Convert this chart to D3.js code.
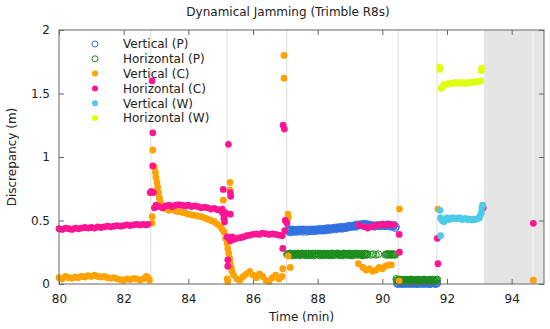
<!DOCTYPE html>
<html><head><meta charset="utf-8">
<script src="https://cdn.jsdelivr.net/npm/d3@7"></script>
<style>body{margin:0;background:#fff}svg{display:block;font-family:"DejaVu Sans",sans-serif}</style>
</head><body><svg id="c" width="550" height="329"></svg>
<script>
const title = "Dynamical Jamming (Trimble R8s)";
const xLabel = "Time (min)";
const yLabel = "Discrepancy (m)";
const xTicks = [80, 82, 84, 86, 88, 90, 92, 94];
const yTicks = [0, 0.5, 1, 1.5, 2];
const eventTimes = [82.84, 85.2, 87.04, 90.49, 91.69, 94.66];
const jamWindow = [93.14, 95];
const seriesNames = ["Vertical (P)", "Horizontal (P)", "Vertical (C)", "Horizontal (C)", "Vertical (W)", "Horizontal (W)"];

const vertP = [
[87.05,0.42],[87.1,0.41],[87.15,0.43],[87.2,0.415],[87.25,0.425],[87.3,0.41],[87.35,0.42],[87.4,0.43],[87.45,0.415],[87.5,0.42],
[87.55,0.43],[87.6,0.42],[87.65,0.41],[87.7,0.425],[87.75,0.43],[87.8,0.42],[87.85,0.415],[87.9,0.43],[87.95,0.425],[88.0,0.42],
[88.05,0.435],[88.1,0.425],[88.15,0.42],[88.2,0.435],[88.25,0.43],[88.3,0.425],[88.35,0.44],[88.4,0.43],[88.45,0.435],[88.5,0.44],
[88.55,0.43],[88.6,0.445],[88.65,0.44],[88.7,0.435],[88.75,0.45],[88.8,0.44],[88.85,0.445],[88.9,0.455],[88.95,0.445],[89.0,0.45],
[89.05,0.46],[89.1,0.45],[89.15,0.465],[89.2,0.455],[89.25,0.46],[89.3,0.47],[89.35,0.46],[89.4,0.475],[89.45,0.465],[89.5,0.47],
[89.55,0.46],[89.6,0.465],[89.65,0.455],[89.7,0.46],[89.75,0.45],[89.8,0.46],[89.85,0.455],[89.9,0.46],[89.95,0.465],[90.0,0.46],
[90.05,0.455],[90.1,0.46],[90.15,0.47],[90.2,0.46],[90.25,0.45],[90.3,0.46],[90.35,0.455],[90.4,0.44],
[87.075,0.43],[87.125,0.42],[87.175,0.405],[87.225,0.43],[87.275,0.42],[87.325,0.425],[87.375,0.41],[87.425,0.425],[87.475,0.43],[87.525,0.41],
[87.575,0.42],[87.625,0.43],[87.675,0.42],[87.725,0.415],[87.775,0.42],[87.825,0.43],[87.875,0.425],[87.925,0.415],[87.975,0.43],[88.025,0.425],
[88.075,0.42],[88.125,0.435],[88.175,0.43],[88.225,0.42],[88.275,0.44],[88.325,0.43],[88.375,0.425],[88.425,0.44],[88.475,0.43],[88.525,0.445],
[88.575,0.44],[88.625,0.435],[88.675,0.45],[88.725,0.445],[88.775,0.435],[88.825,0.45],[88.875,0.44],[88.925,0.445],[88.975,0.46],[89.025,0.45],
[89.075,0.455],[89.125,0.46],[89.175,0.45],[89.225,0.47],[89.275,0.46],[89.325,0.465],[89.375,0.47],[89.425,0.46],[89.475,0.475],[89.525,0.465],
[89.575,0.47],[89.625,0.46],[89.675,0.465],[89.725,0.46],[89.775,0.455],[89.825,0.465],[89.875,0.46],[89.925,0.455],[89.975,0.465],[90.025,0.47],
[90.075,0.46],[90.125,0.455],[90.175,0.46],[90.225,0.47],[90.275,0.46],[90.325,0.45],[90.375,0.465],[90.425,0.45],
[90.45,0.005],[90.5,0.0],[90.55,0.01],[90.6,0.0],[90.65,0.005],[90.7,0.0],[90.75,0.01],[90.8,0.005],[90.85,0.0],[90.9,0.005],
[90.95,0.01],[91.0,0.0],[91.05,0.005],[91.1,0.0],[91.15,0.01],[91.2,0.005],[91.25,0.0],[91.3,0.005],[91.35,0.01],[91.4,0.0],
[91.45,0.005],[91.5,0.0],[91.55,0.01],[91.6,0.005],[91.65,0.0],[91.7,0.005],
[90.475,0.0],[90.525,0.01],[90.575,0.005],[90.625,0.0],[90.675,0.01],[90.725,0.005],[90.775,0.0],[90.825,0.005],[90.875,0.01],[90.925,0.0],
[90.975,0.005],[91.025,0.01],[91.075,0.0],[91.125,0.005],[91.175,0.0],[91.225,0.01],[91.275,0.005],[91.325,0.0],[91.375,0.01],[91.425,0.005],
[91.475,0.0],[91.525,0.005],[91.575,0.01],[91.625,0.0],[91.675,0.005]
];

const horizP = [
[87.05,0.235],[87.1,0.23],[87.15,0.24],[87.2,0.225],[87.25,0.235],[87.3,0.24],[87.35,0.23],[87.4,0.235],[87.45,0.225],[87.5,0.24],
[87.55,0.235],[87.6,0.23],[87.65,0.24],[87.7,0.235],[87.75,0.225],[87.8,0.235],[87.85,0.24],[87.9,0.23],[87.95,0.235],[88.0,0.24],
[88.05,0.225],[88.1,0.235],[88.15,0.23],[88.2,0.24],[88.25,0.235],[88.3,0.23],[88.35,0.225],[88.4,0.235],[88.45,0.24],[88.5,0.23],
[88.55,0.235],[88.6,0.24],[88.65,0.23],[88.7,0.225],[88.75,0.235],[88.8,0.24],[88.85,0.235],[88.9,0.23],[88.95,0.24],[89.0,0.225],
[89.05,0.235],[89.1,0.23],[89.15,0.24],[89.2,0.235],[89.25,0.23],[89.3,0.235],[89.35,0.24],[89.4,0.225],[89.45,0.235],[89.5,0.23],[89.55,0.235],
[87.075,0.23],[87.125,0.24],[87.175,0.235],[87.225,0.23],[87.275,0.225],[87.325,0.235],[87.375,0.24],[87.425,0.23],[87.475,0.235],[87.525,0.24],
[87.575,0.23],[87.625,0.225],[87.675,0.235],[87.725,0.24],[87.775,0.23],[87.825,0.235],[87.875,0.225],[87.925,0.24],[87.975,0.235],[88.025,0.23],
[88.075,0.24],[88.125,0.235],[88.175,0.225],[88.225,0.23],[88.275,0.24],[88.325,0.235],[88.375,0.23],[88.425,0.24],[88.475,0.225],[88.525,0.235],
[88.575,0.23],[88.625,0.24],[88.675,0.235],[88.725,0.23],[88.775,0.225],[88.825,0.24],[88.875,0.235],[88.925,0.23],[88.975,0.235],[89.025,0.24],
[89.075,0.225],[89.125,0.235],[89.175,0.23],[89.225,0.24],[89.275,0.235],[89.325,0.23],[89.375,0.225],[89.425,0.235],[89.475,0.24],[89.525,0.23],
[89.65,0.23],[89.72,0.235],[89.8,0.23],[89.88,0.235],
[90.1,0.23],[90.15,0.235],[90.2,0.23],[90.25,0.235],[90.3,0.23],[90.35,0.235],[90.4,0.23],
[90.125,0.235],[90.175,0.23],[90.225,0.235],[90.275,0.23],[90.325,0.235],[90.375,0.23],
[90.43,0.04],
[90.45,0.03],[90.5,0.025],[90.55,0.035],[90.6,0.03],[90.65,0.02],[90.7,0.03],[90.75,0.035],[90.8,0.025],[90.85,0.03],[90.9,0.035],
[90.95,0.025],[91.0,0.03],[91.05,0.02],[91.1,0.03],[91.15,0.035],[91.2,0.025],[91.25,0.03],[91.3,0.035],[91.35,0.025],[91.4,0.03],
[91.45,0.02],[91.5,0.03],[91.55,0.035],[91.6,0.025],[91.65,0.03],[91.7,0.035],
[90.475,0.03],[90.525,0.035],[90.575,0.025],[90.625,0.03],[90.675,0.035],[90.725,0.02],[90.775,0.03],[90.825,0.025],[90.875,0.035],[90.925,0.03],
[90.975,0.025],[91.025,0.03],[91.075,0.035],[91.125,0.02],[91.175,0.03],[91.225,0.025],[91.275,0.035],[91.325,0.03],[91.375,0.025],[91.425,0.03],
[91.475,0.035],[91.525,0.025],[91.575,0.03],[91.625,0.02],[91.675,0.03]
];

const vertC = [
[80.0,0.05],[80.1,0.04],[80.2,0.06],[80.3,0.05],[80.4,0.045],[80.5,0.055],[80.6,0.05],[80.7,0.06],[80.8,0.055],[80.9,0.065],
[81.0,0.06],[81.1,0.07],[81.2,0.06],[81.3,0.055],[81.4,0.06],[81.5,0.05],[81.6,0.045],[81.7,0.05],[81.8,0.04],[81.9,0.035],
[82.0,0.03],[82.1,0.04],[82.2,0.035],[82.3,0.045],[82.4,0.04],[82.5,0.03],[82.6,0.04],[82.7,0.06],[82.75,0.05],[82.8,0.03],
[82.88,0.48],[82.88,0.53],[82.9,1.055],[82.95,0.92],[82.98,0.88],[83.0,0.84],[83.03,0.8],[83.05,0.76],[83.08,0.72],[83.1,0.68],
[83.13,0.65],[83.17,0.62],[83.2,0.61],[83.25,0.6],
[83.3,0.59],[83.4,0.58],[83.5,0.59],[83.6,0.575],[83.7,0.57],[83.8,0.565],[83.9,0.56],[84.0,0.55],[84.1,0.545],[84.2,0.54],
[84.3,0.535],[84.4,0.53],[84.5,0.52],[84.6,0.51],[84.7,0.5],[84.8,0.49],[84.9,0.47],[85.0,0.45],[85.05,0.43],[85.1,0.41],
[85.08,0.66],[85.29,0.8],[85.28,0.74],[85.15,0.36],[85.2,0.32],[85.22,0.28],[85.25,0.24],[85.28,0.2],[85.3,0.16],[85.33,0.13],
[85.35,0.1],[85.2,0.04],[85.22,0.02],
[85.4,0.07],[85.5,0.04],[85.6,0.03],[85.7,0.06],[85.8,0.08],[85.9,0.1],[86.0,0.07],[86.1,0.05],[86.2,0.08],[86.3,0.06],
[86.4,0.03],[86.5,0.02],[86.6,0.05],[86.7,0.07],[86.8,0.04],[86.9,0.06],
[86.96,1.8],[86.96,1.62],[87.08,0.55],[87.09,0.52],[87.09,0.22],[87.15,0.13],[86.92,0.12],
[89.26,0.16],[89.4,0.13],[89.5,0.11],[89.6,0.12],[89.7,0.1],[89.8,0.11],[89.9,0.13],[90.0,0.12],[90.1,0.14],[90.2,0.15],[90.28,0.15],
[90.53,0.59],[90.52,0.025],[91.72,0.59],[94.67,0.03]
];

const horizC = [
[80.0,0.435],[80.1,0.43],[80.2,0.44],[80.3,0.435],[80.4,0.43],[80.5,0.44],[80.6,0.435],[80.7,0.44],[80.8,0.445],[80.9,0.44],
[81.0,0.445],[81.1,0.44],[81.2,0.45],[81.3,0.445],[81.4,0.45],[81.5,0.455],[81.6,0.45],[81.7,0.455],[81.8,0.46],[81.9,0.455],
[82.0,0.46],[82.1,0.465],[82.2,0.46],[82.3,0.465],[82.4,0.47],[82.5,0.465],[82.6,0.47],[82.7,0.465],[82.75,0.47],
[82.82,0.72],[82.86,0.73],[82.88,1.6],[82.9,1.19],[82.9,0.93],[82.92,0.72],
[82.95,0.6],[83.0,0.62],[83.1,0.61],[83.2,0.6],[83.3,0.615],[83.4,0.62],[83.5,0.61],[83.6,0.62],[83.7,0.625],[83.8,0.62],
[83.9,0.615],[84.0,0.62],[84.1,0.61],[84.2,0.615],[84.3,0.61],[84.4,0.6],[84.5,0.605],[84.6,0.6],[84.7,0.59],[84.8,0.595],
[84.9,0.585],[85.0,0.58],[85.05,0.59],
[85.06,0.56],[85.08,0.745],[85.1,0.52],[85.12,0.49],[85.24,1.1],[85.31,0.69],[85.3,0.55],[85.2,0.37],[85.22,0.19],[85.22,0.14],
[85.3,0.72],[85.15,0.56],
[85.25,0.36],[85.3,0.34],[85.35,0.37],[85.4,0.35],[85.5,0.36],[85.6,0.365],[85.7,0.37],[85.8,0.38],[85.9,0.385],[86.0,0.39],
[86.1,0.395],[86.2,0.39],[86.3,0.4],[86.4,0.395],[86.5,0.39],[86.6,0.395],[86.7,0.39],[86.8,0.385],[86.9,0.38],
[86.93,1.25],[86.97,1.22],[86.92,0.28],[87.0,0.5],[87.05,0.48],[86.98,0.42],
[89.26,0.465],[89.45,0.45],[89.55,0.44],[89.65,0.45],[89.75,0.46],[89.85,0.46],[89.95,0.47],[90.05,0.465],[90.15,0.47],[90.25,0.47],[90.35,0.465],
[90.52,0.39],[90.53,0.25],[91.7,0.36],[91.72,0.16],[93.12,0.6],[94.67,0.478]
];

const vertW = [
[91.78,0.58],[91.8,0.38],[91.8,0.52],[91.85,0.5],[91.9,0.49],[91.95,0.5],[92.0,0.52],[92.05,0.51],[92.1,0.51],[92.15,0.52],
[92.2,0.52],[92.25,0.515],[92.3,0.515],[92.35,0.52],[92.4,0.52],[92.45,0.51],[92.5,0.51],[92.55,0.515],[92.6,0.515],[92.65,0.505],
[92.7,0.51],[92.75,0.505],[92.8,0.505],[92.85,0.51],[92.9,0.51],[92.95,0.515],[93.0,0.52],[93.03,0.54],[93.06,0.56],[93.08,0.6],[93.1,0.62]
];

const horizW = [
[91.77,1.71],[91.78,1.69],[91.82,1.54],[91.85,1.55],[91.9,1.57],[91.95,1.57],[92.0,1.575],[92.05,1.575],[92.1,1.58],[92.15,1.58],
[92.2,1.58],[92.25,1.585],[92.3,1.585],[92.35,1.58],[92.4,1.58],[92.45,1.585],[92.5,1.585],[92.55,1.58],[92.6,1.58],[92.65,1.585],
[92.7,1.585],[92.75,1.59],[92.8,1.59],[92.85,1.59],[92.9,1.59],[92.95,1.595],[93.0,1.595],[93.05,1.6],[93.06,1.68],[93.07,1.7]
];

const colors = ["#2f6fdf", "#1a8c1a", "#ffa200", "#ff1493", "#4dcbe8", "#deff12"];
const hollow = [true, true, false, false, false, false];
const allSeries = [vertP, horizP, vertC, horizC, vertW, horizW];

const m = {l: 59, r: 544, t: 30, b: 284};
const svg = d3.select("#c");
const x = d3.scaleLinear().domain([80, 95]).range([m.l, m.r]);
const y = d3.scaleLinear().domain([0, 2]).range([m.b, m.t]);

svg.append("rect").attr("x", x(jamWindow[0])).attr("y", m.t)
  .attr("width", x(jamWindow[1]) - x(jamWindow[0])).attr("height", m.b - m.t)
  .attr("fill", "#e5e5e5");

svg.append("g").selectAll("line").data(eventTimes).join("line")
  .attr("x1", d => x(d)).attr("x2", d => x(d)).attr("y1", m.t).attr("y2", m.b)
  .attr("stroke", d => d > jamWindow[0] ? "#f4f4f4" : "#e2e2e2").attr("stroke-width", 1.2);

const axisColor = "#666";
function styleAxis(g) {
  g.select(".domain").remove();
  g.selectAll(".tick line").attr("stroke", axisColor);
  g.selectAll(".tick text").attr("fill", "#222").style("font-size", "12px").style("font-family", "DejaVu Sans");
}
svg.append("g").attr("transform", `translate(0,${m.b})`)
  .call(d3.axisBottom(x).tickValues(xTicks).tickSize(-5).tickPadding(10).tickFormat(d => d)).call(styleAxis);
svg.append("g").attr("transform", `translate(0,${m.t})`)
  .call(d3.axisTop(x).tickValues(xTicks).tickSize(-5).tickFormat("")).call(styleAxis);
svg.append("g").attr("transform", `translate(${m.l},0)`)
  .call(d3.axisLeft(y).tickValues(yTicks).tickSize(-5).tickPadding(9).tickFormat(d => d)).call(styleAxis);
svg.append("g").attr("transform", `translate(${m.r},0)`)
  .call(d3.axisRight(y).tickValues(yTicks).tickSize(-5).tickFormat("")).call(styleAxis);

allSeries.forEach((s, i) => {
  svg.append("g").selectAll("circle").data(s).join("circle")
    .attr("cx", d => x(d[0])).attr("cy", d => y(d[1])).attr("r", 3.4)
    .attr("fill", hollow[i] ? "none" : colors[i])
    .attr("stroke", hollow[i] ? colors[i] : "none").attr("stroke-width", 1);
});

svg.append("rect").attr("x", m.l).attr("y", m.t).attr("width", m.r - m.l).attr("height", m.b - m.t)
  .attr("fill", "none").attr("stroke", axisColor).attr("stroke-width", 1);

const leg = svg.append("g");
seriesNames.forEach((name, i) => {
  const ly = 44 + i * 14.8;
  leg.append("circle").attr("cx", 95).attr("cy", ly).attr("r", 3)
    .attr("fill", hollow[i] ? "none" : colors[i])
    .attr("stroke", hollow[i] ? colors[i] : "none").attr("stroke-width", 1);
  leg.append("text").attr("x", 123).attr("y", ly).attr("dy", "0.36em")
    .style("font-size", "12px").attr("fill", "#222").text(name);
});

svg.append("text").attr("x", 288).attr("y", 16).attr("text-anchor", "middle")
  .style("font-size", "12px").attr("fill", "#222").text(title);
svg.append("text").attr("x", (m.l + m.r) / 2).attr("y", 321).attr("text-anchor", "middle")
  .style("font-size", "12px").attr("fill", "#222").text(xLabel);
svg.append("text").attr("transform", `translate(16,${(m.t + m.b) / 2}) rotate(-90)`).attr("text-anchor", "middle")
  .style("font-size", "12px").attr("fill", "#222").text(yLabel);
</script></body></html>
